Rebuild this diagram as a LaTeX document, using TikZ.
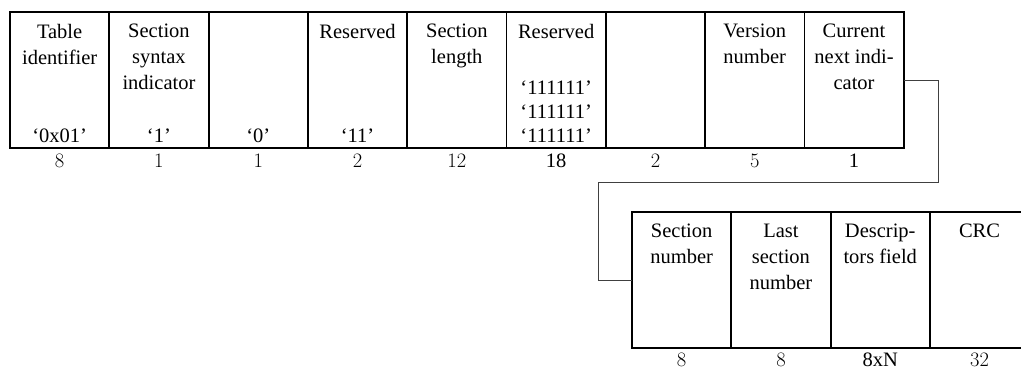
\documentclass[tikz,border=0pt]{standalone}
\usepackage{fontspec}
\setmainfont{Liberation Serif}
\newfontfamily\cmdigits{Latin Modern Roman}
\usepackage{tikz}
\usetikzlibrary{positioning}

\begin{document}
\begin{tikzpicture}[
    x=1pt, y=-1pt,
    node distance=0pt,
    field/.style={draw, line width=1.8pt, minimum width=99.3pt, minimum height=136pt,
                  inner sep=0pt, outer sep=0pt},
    lbl/.style={font=\fontsize{20.5}{26}\selectfont, align=center, inner sep=0pt},
    val/.style={font=\fontsize{20.5}{24}\selectfont, align=center, inner sep=0pt},
    bits/.style={font=\fontsize{20.5}{24}\selectfont, inner sep=0pt},
    link/.style={line width=1pt, black!75},
  ]
  \useasboundingbox (0,0) rectangle (1021,372);

  % Header fields
  \node[field, anchor=north west] (tid) at (10,12) {};
  \node[field, right=of tid] (ssi) {};
  \node[field, right=of ssi] (zero) {};
  \node[field, right=of zero] (resa) {};
  \node[field, right=of resa] (slen) {};
  \node[field, right=of slen] (resb) {};
  \node[field, right=of resb] (blank) {};
  \node[field, right=of blank] (vnum) {};
  \node[field, right=of vnum] (cni) {};

  \node[lbl, below=12pt of tid.north] (tidtxt) {Table\\identifier};
  \node[lbl, below=12pt of ssi.north] (ssitxt) {Section\\syntax\\indicator};
  \node[lbl, below=12pt of resa.north] (resatxt) {Reserved};
  \node[lbl, below=12pt of slen.north] (slentxt) {Section\\length};
  \node[lbl, below=12pt of resb.north] (resbtxt) {Reserved};
  \node[lbl, below=12pt of vnum.north] (vnumtxt) {Version\\number};
  \node[lbl, below=12pt of cni.north] (cnitxt) {Current\\next indi-\\cator};

  \node[val, above=5pt of tid.south] (tidval) {`0x01'};
  \node[val, above=5pt of ssi.south] (ssival) {`1'};
  \node[val, above=5pt of zero.south] (zeroval) {`0'};
  \node[val, above=5pt of resa.south] (resaval) {`11'};
  \node[val, above=5pt of resb.south] (resbval) {`111111'\\`111111'\\`111111'};

  \node[bits, below=6pt of tid.south] (tidbits) {\cmdigits 8};
  \node[bits, below=6pt of ssi.south] (ssibits) {\cmdigits 1};
  \node[bits, below=6pt of zero.south] (zerobits) {\cmdigits 1};
  \node[bits, below=6pt of resa.south] (resabits) {\cmdigits 2};
  \node[bits, below=6pt of slen.south] (slenbits) {\cmdigits 12};
  \node[bits, below=6pt of resb.south] (resbbits) {18};
  \node[bits, below=6pt of blank.south] (blankbits) {\cmdigits 2};
  \node[bits, below=6pt of vnum.south] (vnumbits) {\cmdigits 5};
  \node[bits, below=6pt of cni.south] (cnibits) {1};

  % Trailing fields
  \node[field, anchor=north west] (sn) at (632,212) {};
  \node[field, right=of sn] (lsn) {};
  \node[field, right=of lsn] (desc) {};
  \node[field, right=of desc] (crc) {};

  \node[lbl, below=12pt of sn.north] (sntxt) {Section\\number};
  \node[lbl, below=12pt of lsn.north] (lsntxt) {Last\\section\\number};
  \node[lbl, below=12pt of desc.north] (desctxt) {Descrip-\\tors field};
  \node[lbl, below=12pt of crc.north] (crctxt) {CRC};

  \node[bits, below=5pt of sn.south] (snbits) {\cmdigits 8};
  \node[bits, below=5pt of lsn.south] (lsnbits) {\cmdigits 8};
  \node[bits, below=5pt of desc.south] (descbits) {8xN};
  \node[bits, below=5pt of crc.south] (crcbits) {\cmdigits 32};

  % Continuation line
  \coordinate[right=35pt of cni.east] (hookR);
  \coordinate (hookL) at (598,182);
  \draw[link] (cni.east) -- (hookR) |- (hookL) |- (sn.west);

\end{tikzpicture}
\end{document}
